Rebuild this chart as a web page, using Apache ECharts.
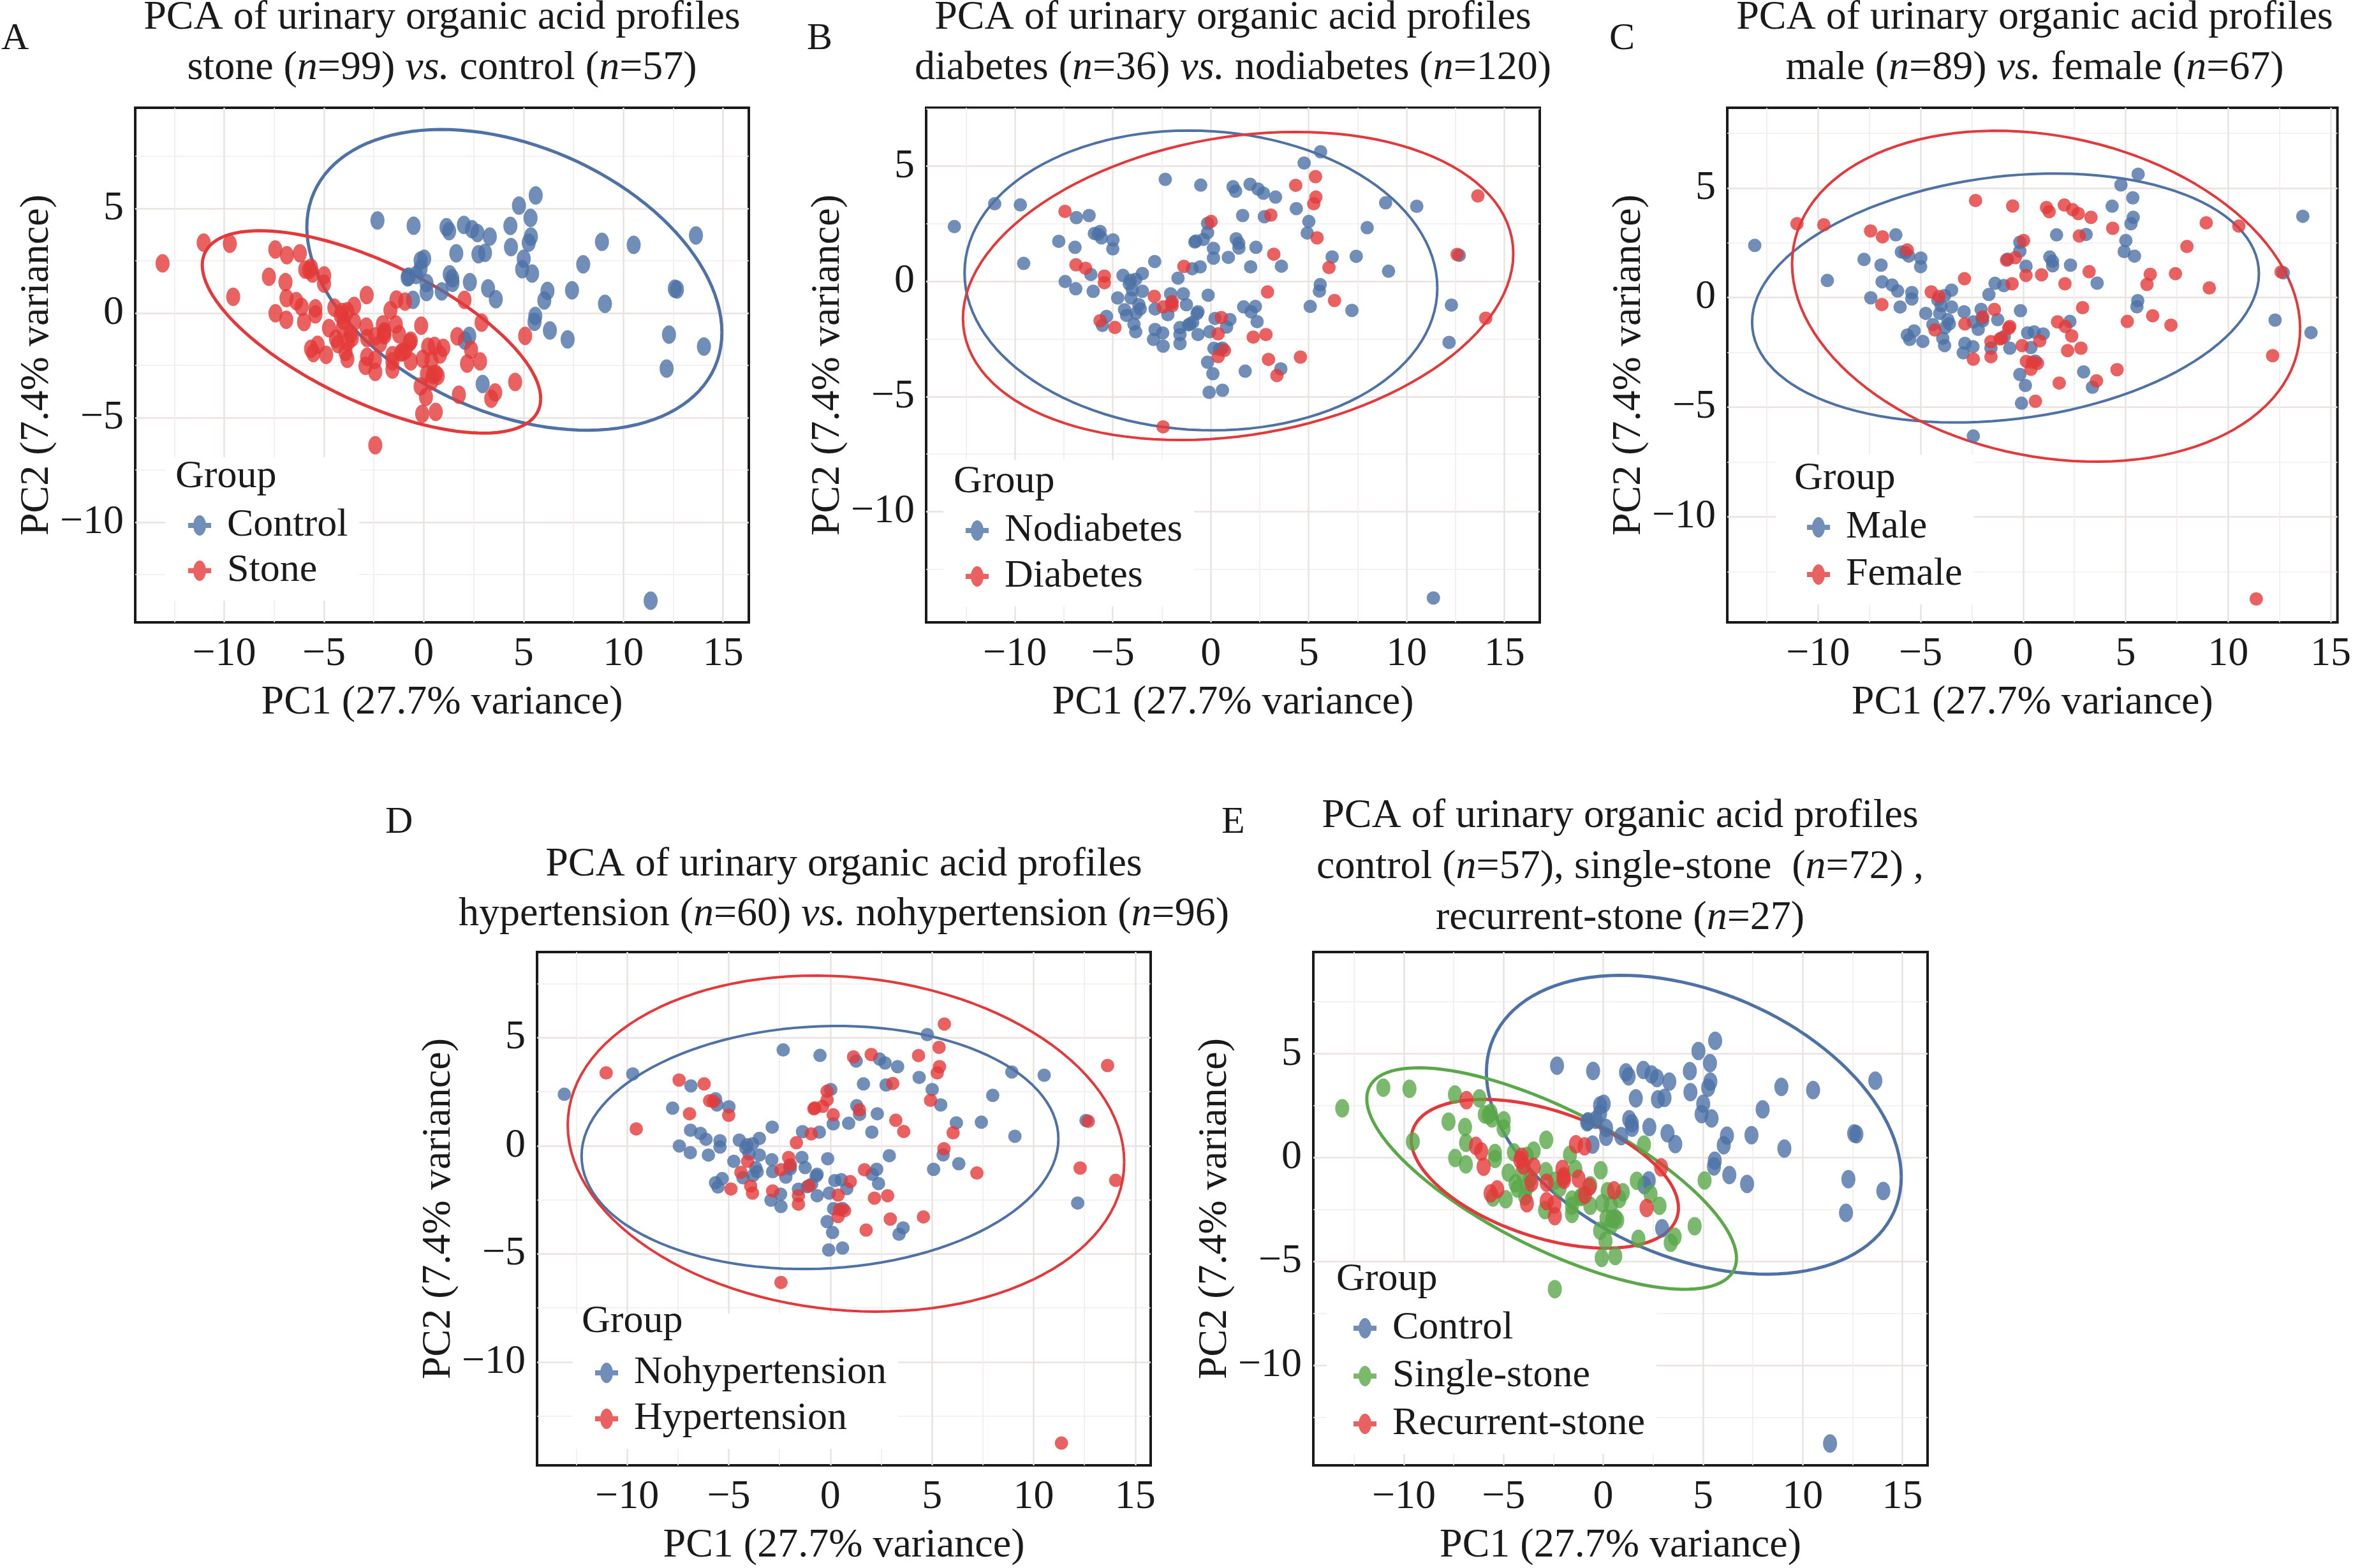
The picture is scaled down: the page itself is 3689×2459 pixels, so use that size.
<!DOCTYPE html>
<html>
<head>
<meta charset="utf-8">
<title>PCA of urinary organic acid profiles</title>
<script src="https://cdn.jsdelivr.net/npm/echarts@6/dist/echarts.min.js"></script>
<style>
  html, body { margin: 0; padding: 0; background: #fff; }
  #main { width: 3689px; height: 2459px; }
</style>
</head>
<body>
<div id="main"></div>
<script>
// PC scores of the 156 samples (same PCA in every panel)
var pc1 = [
  -13.09, -11.03, -9.72, -9.55, -7.44, -6.86, -6.21, -7.76, -6.93, -5.94,
  -5.65, -5.58, -4.99, -5.00, -6.88, -6.39, -6.12, -5.43, -5.43, -7.43,
  -6.89, -6.00, -4.48, -3.83, -3.49, -4.16, -4.00, -3.49, -4.75, -4.07,
  -3.67, -4.40, -4.30, -3.81, -5.32, -5.65, -5.53, -4.89, -3.92, -3.83,
  -2.86, -1.67, -1.37, -0.94, -0.54, -2.88, -2.05, -1.40, -2.43, -1.97,
  -1.97, -2.84, -2.19, -1.24, -0.65, -0.13, -0.92, -1.13, -1.57, -1.57,
  -0.65, -2.84, -2.45, -2.92, -2.43, -1.57, -2.32, -0.51, -0.16, 0.02,
  -0.16, -0.38, -0.81, -0.76, 0.14, 0.14, -0.05, 0.16, -0.16, 0.11,
  -0.08, -2.43, 0.22, 0.54, 0.98, 0.81, 0.38, 0.60, 0.70, 0.38,
  0.60, 5.61, 4.77, 5.35, 4.34, 5.37, 5.26, 4.37, 1.14, 1.27,
  2.01, 2.42, 2.69, 3.31, 1.63, 2.74, 3.07, 5.01, 4.93, 5.43,
  7.99, 8.93, 10.52, 13.64, 1.30, 1.43, 1.44, 2.31, 0.90, 2.04,
  3.22, 3.61, 6.20, 7.43, 6.04, 9.08, 12.58, 12.69, 5.59, 5.55,
  2.90, 6.32, 5.08, 7.21, 12.29, 14.04, 1.68, 2.28, 2.06, 2.37,
  2.17, 2.82, 12.17, 4.58, 2.95, 3.58, 3.38, 1.76, 11.37, -4.10,
  -1.05, -2.00, -5.75, -3.60, 0.45, -0.70
];
var pc2 = [
  2.38, 3.37, 3.32, 0.78, 3.04, 2.77, 2.86, 1.74, 1.48, 2.08,
  2.17, 1.89, 1.80, 1.41, 0.72, 0.57, 0.30, 0.23, -0.06, -0.01,
  -0.32, -0.43, 0.26, 0.09, 0.34, -0.11, -0.37, -0.43, -0.72, -0.72,
  -1.01, -1.23, -1.48, -1.38, -1.52, -1.71, -1.91, -2.00, -1.86, -2.19,
  0.86, 0.14, 0.65, 0.55, 0.63, -0.65, -0.54, -0.54, -1.11, -0.88,
  -1.06, -1.20, -1.45, -1.01, -1.32, -0.60, -1.78, -1.89, -2.01, -2.31,
  -2.31, -2.09, -2.24, -2.52, -2.81, -2.70, 4.43, 4.18, 2.52, 2.60,
  2.12, 1.82, 1.71, 1.75, 1.43, 1.01, -2.19, -2.91, -3.51, -4.01,
  -4.82, -6.32, -1.61, -1.57, -1.66, -1.98, -2.28, -2.90, -3.00, -3.27,
  -4.73, 5.63, 5.14, 4.55, 4.17, 3.66, 3.37, 3.16, 4.11, 3.92,
  4.22, 4.01, 3.83, 3.66, 2.86, 2.81, 2.88, 2.60, 2.10, 1.89,
  2.33, 3.41, 3.26, 3.71, 1.85, 1.66, 1.45, 1.48, 1.04, 0.63,
  1.18, 0.66, 1.06, 1.09, 0.60, 0.44, 1.17, 1.13, -0.14, -0.42,
  -0.46, -0.83, -1.09, -1.26, -1.03, -1.60, -1.11, -1.09, -1.32, -1.75,
  -2.42, -2.31, -2.65, -3.29, -3.39, -3.80, -4.09, -3.90, -13.75, 0.05,
  -1.85, -0.95, 2.05, -1.20, -2.95, -1.40
];
// 0 = control, 1 = single-stone, 2 = recurrent-stone
var stoneType = [
  1,1,1,1,1,2,1,1,1,1, 1,1,1,1,1,2,2,1,1,1, 1,2,1,1,1,2,2,2,1,1, 1,1,1,1,2,2,1,1,1,2,
  1,1,2,2,0,1,2,1,1,1, 2,2,1,2,1,1,2,1,1,1, 1,2,2,1,2,1,0,0,0,0, 0,0,0,0,0,0,1,1,1,1,
  1,1,1,2,1,1,1,1,1,1, 1,0,0,0,0,0,0,0,0,0, 0,0,0,0,0,0,0,0,0,0, 0,0,0,0,0,0,0,0,0,1,
  0,0,0,0,0,0,0,0,0,0, 2,0,1,0,0,0,1,0,0,1, 2,1,0,1,0,1,1,1,0,2, 1,2,1,2,1,2
];
var diabetes = [
  0,0,0,0,1,0,0,0,0,0, 0,0,0,0,1,1,0,1,1,0, 0,0,0,0,0,0,0,0,0,0, 0,0,0,0,0,1,0,1,0,0,
  0,0,1,0,0,1,0,0,1,1, 1,0,0,0,0,0,0,0,0,0, 0,0,0,0,0,0,0,0,0,1, 0,0,0,0,0,0,0,0,0,0,
  0,1,0,1,0,0,1,0,1,1, 0,0,0,1,1,1,1,0,0,0, 0,0,0,0,0,0,1,0,0,1, 0,0,0,1,0,0,0,0,0,0,
  1,0,0,0,1,0,1,0,0,0, 1,1,0,0,0,1,0,0,0,0, 1,1,0,1,1,0,1,0,0,0, 0,0,0,0,0,0
];
var female = [
  0,1,1,0,1,1,0,0,0,0, 1,0,0,0,0,0,0,0,0,0, 1,0,1,0,0,0,0,0,0,0, 0,0,1,0,0,0,0,0,0,0,
  1,0,0,0,1,0,0,1,0,1, 0,1,0,0,1,0,0,1,1,0, 0,0,0,0,1,1,1,1,0,1, 0,1,1,0,0,1,1,1,0,0,
  0,0,0,0,0,1,0,0,1,1, 1,0,0,0,0,0,0,1,1,1, 1,1,1,1,0,1,0,0,0,0, 1,1,1,0,0,0,0,0,1,1,
  1,0,1,1,1,1,1,0,0,0, 1,1,1,1,0,0,1,0,1,1, 1,1,1,1,0,1,0,1,1,1, 1,0,0,0,1,1
];
var hypertension = [
  0,1,0,1,1,0,1,0,1,1, 0,0,0,1,0,0,0,0,0,0, 0,0,0,0,0,0,0,0,0,1, 0,1,0,0,0,0,0,1,1,1,
  0,1,0,1,0,0,1,0,1,1, 0,0,0,0,0,0,0,0,0,1, 0,1,0,0,0,1,0,0,1,0, 1,1,1,1,1,0,0,0,0,0,
  0,1,0,0,1,0,1,0,1,1, 0,1,0,1,1,1,1,0,1,0, 1,0,0,0,0,0,1,0,1,0, 0,0,0,1,0,1,0,0,0,0,
  1,1,0,0,1,0,0,1,1,0, 0,0,0,1,1,1,1,0,0,0, 1,1,0,1,1,0,0,1,1,0, 1,0,1,0,1,0
];

// 95% ellipses: [centre PC1, centre PC2, half width, half height, correlation]
var ellControl = [4.54, 1.59, 10.40, 7.19, -0.35];
var ellStone = [-2.62, -0.90, 8.48, 4.84, -0.66];
var ellNodiabetes = [-0.50, 0.04, 12.07, 6.51, -0.05];
var ellDiabetes = [1.40, -0.20, 14.05, 6.69, 0.21];
var ellMale = [-0.86, -0.02, 12.36, 5.68, 0.195];
var ellFemale = [1.12, 0.06, 12.39, 7.55, -0.196];
var ellNohyp = [-0.51, -0.08, 11.73, 5.62, 0.07];
var ellHyp = [0.77, 0.10, 13.69, 7.77, -0.11];
var ellSingle = [-2.59, -1.00, 9.27, 5.33, -0.72];
var ellRecurrent = [-2.93, -0.77, 6.70, 3.58, -0.46];

var FONT = 'Liberation Serif';
var INK = '#1a1a1a';
var BLUE = '#4E72A6', RED = '#E3393A', GREEN = '#5AA84A';
var TITLE1 = 'PCA of urinary organic acid profiles';
// legend key: point with a line through it
var KEY = 'path://M0,12L36,12L36,20L0,20Z M8,16A10,16,0,1,1,28,16A10,16,0,1,1,8,16Z';

function pick(test) {
  var out = [];
  for (var i = 0; i < pc1.length; i++) {
    if (test(i)) out.push([pc1[i], pc2[i]]);
  }
  return out;
}

function ellipsePoints(e) {
  var pts = [];
  var s = Math.sqrt(1 - e[4] * e[4]);
  for (var k = 0; k <= 120; k++) {
    var t = 2 * Math.PI * k / 120;
    pts.push([e[0] + e[2] * Math.cos(t), e[1] + e[3] * (e[4] * Math.cos(t) + s * Math.sin(t))]);
  }
  return pts;
}

var panels = [
  {
    letter: 'A', letterPos: [2, 79], box: [212, 169, 962, 807],
    x: [-14.46, 16.29], y: [-14.79, 9.82], sym: [22, 29], lw: 5,
    titleX: 693, titleY: [47, 126],
    lines: [TITLE1, 'stone ({i|n}=99) {i|vs.} control ({i|n}=57)'],
    legend: { box: [259, 717], icon: 313, row: 824, step: 71, group: [275, 767] },
    groups: [
      ['Control', BLUE, function (i) { return stoneType[i] === 0; }, ellControl],
      ['Stone', RED, function (i) { return stoneType[i] > 0; }, ellStone]
    ]
  },
  {
    letter: 'B', letterPos: [1265, 79], box: [1452, 169, 962, 807],
    x: [-14.53, 16.80], y: [-14.81, 7.54], sym: 21, lw: 4,
    titleX: 1933, titleY: [47, 126],
    lines: [TITLE1, 'diabetes ({i|n}=36) {i|vs.} nodiabetes ({i|n}=120)'],
    legend: { box: [1479, 721], icon: 1532, row: 832, step: 72, group: [1495, 775] },
    groups: [
      ['Nodiabetes', BLUE, function (i) { return diabetes[i] === 0; }, ellNodiabetes],
      ['Diabetes', RED, function (i) { return diabetes[i] === 1; }, ellDiabetes]
    ]
  },
  {
    letter: 'C', letterPos: [2523, 79], box: [2708, 169, 964, 807],
    x: [-14.43, 15.33], y: [-14.82, 8.66], sym: 21, lw: 4,
    titleX: 3190, titleY: [47, 126],
    lines: [TITLE1, 'male ({i|n}=89) {i|vs.} female ({i|n}=67)'],
    legend: { box: [2784, 713], icon: 2851, row: 827, step: 74, group: [2813, 770] },
    groups: [
      ['Male', BLUE, function (i) { return female[i] === 0; }, ellMale],
      ['Female', RED, function (i) { return female[i] === 1; }, ellFemale]
    ]
  },
  {
    letter: 'D', letterPos: [604, 1308], box: [842, 1493, 962, 805],
    x: [-14.43, 15.76], y: [-14.78, 8.96], sym: 21, lw: 4,
    titleX: 1323, titleY: [1375, 1453],
    lines: [TITLE1, 'hypertension ({i|n}=60) {i|vs.} nohypertension ({i|n}=96)'],
    legend: { box: [898, 2060], icon: 951, row: 2153, step: 72, group: [912, 2092] },
    groups: [
      ['Nohypertension', BLUE, function (i) { return hypertension[i] === 0; }, ellNohyp],
      ['Hypertension', RED, function (i) { return hypertension[i] === 1; }, ellHyp]
    ]
  },
  {
    letter: 'E', letterPos: [1915, 1308], box: [2059, 1493, 963, 805],
    x: [-14.54, 16.26], y: [-14.80, 9.90], sym: [22, 29], lw: 5,
    titleX: 2540, titleY: [1299, 1379, 1459],
    lines: [TITLE1, 'control ({i|n}=57), single-stone  ({i|n}=72) ,', 'recurrent-stone ({i|n}=27)'],
    legend: { box: [2080, 1980], icon: 2140, row: 2083, step: 75, group: [2095, 2026] },
    groups: [
      ['Control', BLUE, function (i) { return stoneType[i] === 0; }, ellControl],
      ['Single-stone', GREEN, function (i) { return stoneType[i] === 1; }, ellSingle],
      ['Recurrent-stone', RED, function (i) { return stoneType[i] === 2; }, ellRecurrent]
    ]
  }
];

function tickText(v) {
  if (Math.abs(v % 5) > 1e-6) return '';
  return v < 0 ? '\u2212' + Math.abs(v) : String(v);
}

function makeAxis(range, gi, isX) {
  return {
    type: 'value', gridIndex: gi, min: range[0], max: range[1],
    minInterval: 5, maxInterval: 5, splitNumber: 6,
    name: isX ? 'PC1 (27.7% variance)' : 'PC2 (7.4% variance)',
    nameLocation: 'middle', nameGap: isX ? 94 : 117,
    nameTextStyle: { fontFamily: FONT, fontSize: 64, color: INK },
    axisLine: { show: false }, axisTick: { show: false },
    axisLabel: {
      margin: 18, fontFamily: FONT, fontSize: 64, color: INK,
      showMinLabel: false, showMaxLabel: false, formatter: tickText
    },
    splitLine: { show: true, showMinLine: false, showMaxLine: false, lineStyle: { color: '#EAE2E0', width: 2.5 } },
    minorTick: { show: false, splitNumber: 2 },
    minorSplitLine: { show: true, lineStyle: { color: '#F2EDEC', width: 1.6 } }
  };
}

var option = {
  backgroundColor: '#fff', animation: false,
  title: [], legend: [], grid: [], xAxis: [], yAxis: [], series: []
};

function addText(text, left, top, size, align) {
  option.title.push({
    text: text, left: left, top: top, textAlign: align, padding: 0,
    textStyle: {
      fontFamily: FONT, fontSize: size, fontWeight: 'normal', color: INK,
      rich: { i: { fontFamily: FONT, fontSize: size, fontStyle: 'italic', color: INK } }
    }
  });
}

panels.forEach(function (p, gi) {
  option.grid.push({
    left: p.box[0], top: p.box[1], width: p.box[2], height: p.box[3],
    show: true, borderColor: INK, borderWidth: 4, backgroundColor: 'transparent'
  });
  option.xAxis.push(makeAxis(p.x, gi, true));
  option.yAxis.push(makeAxis(p.y, gi, false));

  addText(p.letter, p.letterPos[0], p.letterPos[1] - 48, 60, 'left');
  p.lines.forEach(function (line, k) {
    addText(line, p.titleX, p.titleY[k] - 51, 64, 'center');
  });
  addText('Group', p.legend.group[0], p.legend.group[1] - 50, 62, 'left');

  // white legend box hides the grid lines; points and ellipses stay on top
  var L = p.legend;
  option.legend.push({
    orient: 'vertical', left: L.box[0], top: L.box[1], z: 4,
    padding: [L.row - 31 - L.box[1], 18, 16, L.icon - 18 - L.box[0]],
    backgroundColor: '#fff', itemWidth: 36, itemHeight: 32, itemGap: L.step - 62,
    selectedMode: false,
    data: p.groups.map(function (g) { return { name: g[0], icon: KEY }; }),
    textStyle: { fontFamily: FONT, fontSize: 62, color: INK, padding: [0, 0, 0, 20] }
  });

  p.groups.forEach(function (g) {
    option.series.push({
      type: 'scatter', name: g[0], xAxisIndex: gi, yAxisIndex: gi,
      data: pick(g[2]), symbol: 'circle', symbolSize: p.sym,
      itemStyle: { color: g[1], opacity: 0.8 }, z: 5, silent: true
    });
  });
  p.groups.forEach(function (g) {
    option.series.push({
      type: 'line', name: g[0] + ' ellipse ' + p.letter, xAxisIndex: gi, yAxisIndex: gi,
      data: ellipsePoints(g[3]), showSymbol: false, symbol: 'none',
      lineStyle: { color: g[1], width: p.lw }, z: 5, silent: true
    });
  });
});

var chart = echarts.init(document.getElementById('main'));
chart.setOption(option);
</script>
</body>
</html>
